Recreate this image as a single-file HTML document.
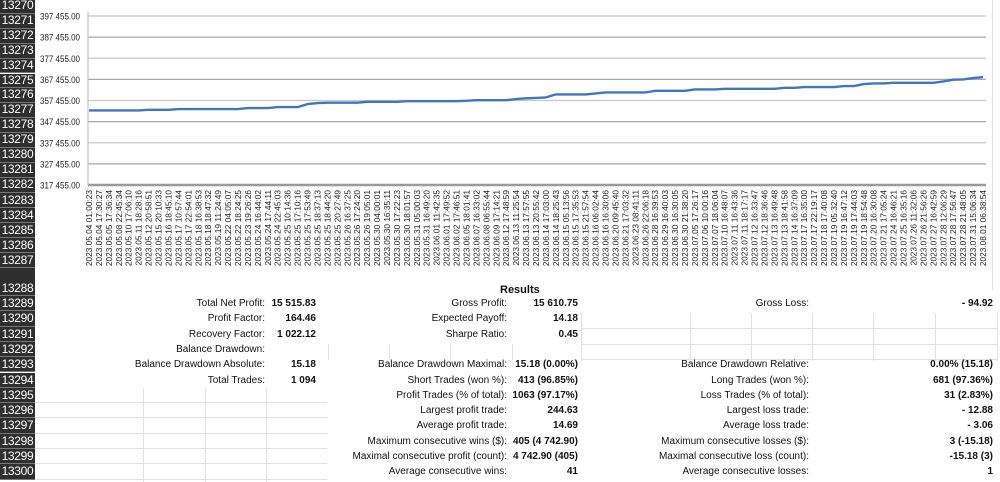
<!DOCTYPE html>
<html><head><meta charset="utf-8">
<style>
body{margin:0;width:1000px;height:482px;overflow:hidden;background:#fff;font-family:"Liberation Sans",Tahoma,sans-serif;position:relative}
.rn{position:absolute;left:0;width:35px;background:#2e2e2e;color:#fff;font-size:12px;text-align:center;border-bottom:1px solid #777;box-sizing:border-box;overflow:hidden;letter-spacing:-0.3px}
.t{position:absolute;font-size:10px;color:#111;white-space:nowrap;line-height:12px}
.l{text-align:right}
.v{text-align:right;font-weight:bold}
.gl{position:absolute;background:#e2e2e2}
</style></head><body>
<svg id="chart" width="1000" height="290" style="position:absolute;left:0;top:0"></svg>
<div id="grid"></div>
<div id="rows"></div>
<div class="t" style="left:500px;top:284px;font-weight:bold;font-size:11px">Results</div>
<div id="res"></div>
<script>
const categories=["2023.05.04 01:00:23","2023.05.04 17:30:27","2023.05.05 17:36:34","2023.05.08 22:45:34","2023.05.10 17:06:10","2023.05.11 18:28:16","2023.05.12 20:58:51","2023.05.15 20:10:33","2023.05.16 18:45:10","2023.05.17 10:57:44","2023.05.17 22:54:01","2023.05.18 16:38:53","2023.05.18 18:47:32","2023.05.19 11:24:49","2023.05.22 04:05:07","2023.05.22 18:24:25","2023.05.23 19:26:26","2023.05.24 16:44:02","2023.05.24 17:44:11","2023.05.24 22:45:03","2023.05.25 10:14:36","2023.05.25 17:10:16","2023.05.25 17:53:49","2023.05.25 18:37:13","2023.05.25 18:44:20","2023.05.25 20:27:49","2023.05.26 16:37:25","2023.05.26 17:24:20","2023.05.26 19:05:01","2023.05.30 04:00:01","2023.05.30 16:35:11","2023.05.30 17:22:23","2023.05.30 18:01:57","2023.05.31 05:00:03","2023.05.31 16:49:20","2023.06.01 11:42:35","2023.06.01 17:49:52","2023.06.02 17:46:51","2023.06.05 18:01:41","2023.06.07 16:33:02","2023.06.08 06:55:44","2023.06.09 17:14:21","2023.06.12 17:48:59","2023.06.13 11:25:54","2023.06.13 17:57:55","2023.06.13 20:55:42","2023.06.14 17:03:00","2023.06.14 18:25:43","2023.06.15 05:13:56","2023.06.15 17:35:53","2023.06.15 21:57:54","2023.06.16 06:02:44","2023.06.16 16:30:06","2023.06.20 09:45:40","2023.06.21 17:03:32","2023.06.23 08:41:11","2023.06.26 22:06:18","2023.06.28 16:39:53","2023.06.29 16:40:03","2023.06.30 16:30:05","2023.06.30 21:38:20","2023.07.05 17:26:17","2023.07.06 10:00:16","2023.07.07 18:06:04","2023.07.10 16:48:07","2023.07.11 16:43:36","2023.07.11 18:17:17","2023.07.12 16:33:47","2023.07.12 18:36:46","2023.07.13 16:49:48","2023.07.13 18:41:58","2023.07.14 16:37:09","2023.07.17 16:35:00","2023.07.17 22:19:17","2023.07.18 17:40:08","2023.07.19 05:32:40","2023.07.19 16:47:12","2023.07.19 17:44:03","2023.07.19 18:54:48","2023.07.20 16:30:08","2023.07.21 17:05:24","2023.07.24 16:46:21","2023.07.25 16:35:16","2023.07.26 11:32:06","2023.07.26 21:56:26","2023.07.27 16:42:59","2023.07.28 12:06:29","2023.07.28 17:56:47","2023.07.28 21:48:05","2023.07.31 15:06:34","2023.08.01 06:38:54"];
const balance=[352766,352766,352766,352766,352766,352766,353050,353050,353050,353384,353384,353384,353384,353384,353384,353384,353858,353858,353858,354330,354330,354330,355750,356225,356400,356400,356400,356400,356840,356840,356840,356840,357100,357100,357100,357100,357100,357100,357315,357600,357600,357600,357600,358100,358500,358700,358900,360340,360340,360340,360340,360800,361290,361290,361290,361290,361290,362050,362050,362050,362050,362720,362720,362720,363000,363000,363000,363000,363000,363000,363480,363480,363810,363810,363810,363810,364280,364280,365230,365560,365560,365850,365850,365850,365850,365850,366500,367300,367460,368070,368550];
const yTicks=[317455,327455,337455,347455,357455,367455,377455,387455,397455];
const yTickLabels=["317 455.00","327 455.00","337 455.00","347 455.00","357 455.00","367 455.00","377 455.00","387 455.00","397 455.00"];

const NS="http://www.w3.org/2000/svg";
const svg=document.getElementById('chart');
const X0=89,X1=983,Y0=185,Y1=16;
const yMin=317455,yMax=397455;
function yScale(v){return Y0-(v-yMin)/(yMax-yMin)*(Y0-Y1);}
function xScale(i){return X0+i*(X1-X0)/(categories.length-1);}
function mk(tag,attrs){const e=document.createElementNS(NS,tag);for(const k in attrs)e.setAttribute(k,attrs[k]);svg.appendChild(e);return e;}
yTicks.forEach((t,i)=>{
  const y=yScale(t);
  if(i>0){const g=mk('line',{x1:88,x2:986,y1:y,y2:y,stroke:i%2?'#a8a8a8':'#c8c8c8','stroke-width':1.2});
  
  }
  const tx=mk('text',{x:40,y:y+3.5,'font-size':'9.5','fill':'#222','font-family':'Liberation Sans, sans-serif',textLength:40,lengthAdjust:'spacingAndGlyphs'});
  tx.textContent=yTickLabels[i];
  
  
});
const ax=mk('line',{x1:88,x2:986,y1:Y0,y2:Y0,stroke:'#9a9a9a','stroke-width':2.5});


const vax=mk('line',{x1:88,x2:88,y1:Y1-4,y2:Y0,stroke:'#bbb','stroke-width':1});


categories.forEach((c,i)=>{
  const x=xScale(i);
  const t=mk('text',{transform:`translate(${x+3},190) rotate(-90)`,'text-anchor':'end','font-size':'8.3','fill':'#222','font-family':'Liberation Sans, sans-serif'});
  t.textContent=c;
  
  
});
const pts=balance.map((v,i)=>xScale(i).toFixed(1)+','+yScale(v).toFixed(1)).join(' ');
const pl=mk('polyline',{points:pts,fill:'none',stroke:'#4472c4','stroke-width':2.4,'stroke-linejoin':'round'});



// row headers
const rowsEl=document.getElementById('rows');
const rowDefs=[];
for(let i=0;i<13;i++)rowDefs.push([13270+i,-1+i*14.9,14.9]);
for(let i=0;i<5;i++)rowDefs.push([13283+i,192.5+i*15.1,15.1]);
rowDefs.push([13288,268,28]);
for(let i=0;i<12;i++)rowDefs.push([13289+i,296+i*15.3,15.3]);
rowDefs.forEach(r=>{
  const d=document.createElement('div');
  d.className='rn';
  d.style.top=r[1]+'px';d.style.height=r[2]+'px';
  d.style.lineHeight=(2*r[2]-16)+'px';
  d.textContent=r[0];
  
  
  rowsEl.appendChild(d);
});

// faint grid lines
const grid=document.getElementById('grid');
function gl(x,y,w,h){const d=document.createElement('div');d.className='gl';d.style.left=x+'px';d.style.top=y+'px';d.style.width=w+'px';d.style.height=h+'px';


grid.appendChild(d);}
for(let i=0;i<6;i++)gl(35,402+i*15.3,292,1);
[143,205,266].forEach(x=>gl(x,388,1,94));
[328,389,450,512].forEach(x=>gl(x,344,1,16));
[581,690,751,812,873,935,997].forEach(x=>gl(x,313,1,48));
gl(581,328,416,1);gl(581,344,416,1);gl(581,359,416,1);
gl(992,0,1,290);

// results
const resEl=document.getElementById('res');
const rows=[
 [0,"Total Net Profit:","15 515.83","Gross Profit:","15 610.75","Gross Loss:","- 94.92"],
 [1,"Profit Factor:","164.46","Expected Payoff:","14.18","",""],
 [2,"Recovery Factor:","1 022.12","Sharpe Ratio:","0.45","",""],
 [3,"Balance Drawdown:","","","","",""],
 [4,"Balance Drawdown Absolute:","15.18","Balance Drawdown Maximal:","15.18 (0.00%)","Balance Drawdown Relative:","0.00% (15.18)"],
 [5,"Total Trades:","1 094","Short Trades (won %):","413 (96.85%)","Long Trades (won %):","681 (97.36%)"],
 [6,"","","Profit Trades (% of total):","1063 (97.17%)","Loss Trades (% of total):","31 (2.83%)"],
 [7,"","","Largest profit trade:","244.63","Largest loss trade:","- 12.88"],
 [8,"","","Average profit trade:","14.69","Average loss trade:","- 3.06"],
 [9,"","","Maximum consecutive wins ($):","405 (4 742.90)","Maximum consecutive losses ($):","3 (-15.18)"],
 [10,"","","Maximal consecutive profit (count):","4 742.90 (405)","Maximal consecutive loss (count):","-15.18 (3)"],
 [11,"","","Average consecutive wins:","41","Average consecutive losses:","1"]
];
const cols=[[265,'l'],[316,'v'],[507,'l'],[578,'v'],[809,'l'],[993,'v']];
rows.forEach(r=>{
  const top=298+r[0]*15.3;
  for(let c=0;c<6;c++){
    const txt=r[c+1];if(!txt)continue;
    const d=document.createElement('div');
    d.className='t '+cols[c][1];
    d.style.right=(1000-cols[c][0])+'px';
    d.style.top=top+'px';
    d.textContent=txt;
    
    
    resEl.appendChild(d);
  }
});
</script>
</body></html>
